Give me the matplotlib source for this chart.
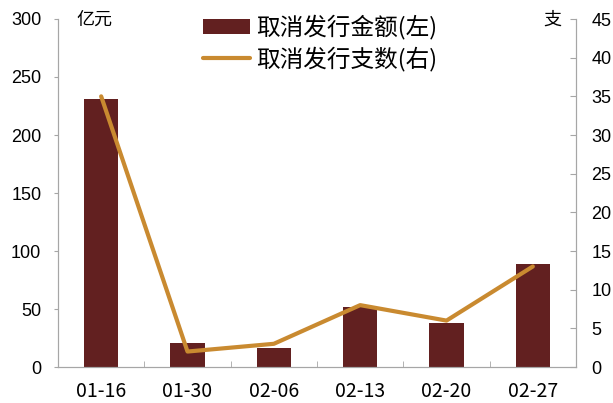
import numpy as np
import matplotlib.pyplot as plt

plt.rcParams['font.family'] = ['Liberation Sans', 'Noto Sans CJK SC', 'DejaVu Sans']

# 数据
dates = ['01-16', '01-30', '02-06', '02-13', '02-20', '02-27']
amount = [231, 21, 16, 51.5, 38, 89]    # 取消发行金额(亿元)
count = [35, 2, 3, 8, 6, 13]            # 取消发行支数

bar_color = '#622020'
line_color = '#C98A30'
axis_color = '#A6A6A6'
cjk = ['Noto Sans CJK SC', 'DejaVu Sans']

W, H = 613, 403
fig = plt.figure(figsize=(W / 100, H / 100), dpi=100)
ax = fig.add_axes([58 / W, 1 - 367 / H, (576 - 58) / W, (367 - 19) / H])
ax2 = ax.twinx()

x = np.arange(len(dates))
b = ax.bar(x, amount, width=0.4, color=bar_color)
l, = ax2.plot(x, count, color=line_color, linewidth=3, solid_capstyle='round')

ax.set_xlim(-0.5, len(dates) - 0.5)
ax.set_ylim(0, 300)
ax.set_yticks(range(0, 301, 50))
ax2.set_ylim(0, 45)
ax2.set_yticks(range(0, 46, 5))

ax.set_xticks(x)
ax.set_xticklabels(dates, family=cjk, fontsize=14)
ax.set_xticks(np.arange(-0.5, len(dates), 1), minor=True)
ax.tick_params(axis='x', which='major', length=0, pad=10)
ax.tick_params(axis='x', which='minor', direction='in', length=4, color=axis_color)

ax.tick_params(axis='y', direction='out', length=3, color=axis_color, labelsize=13, pad=9)
ax2.tick_params(axis='y', direction='in', length=4, color=axis_color, labelsize=13, pad=11)

for a in (ax, ax2):
    a.spines['top'].set_visible(False)
    for s in ('left', 'right', 'bottom'):
        a.spines[s].set_color(axis_color)

fig.text(76 / W, 1 - 19.5 / H, '亿元', fontsize=13, family=cjk, va='center', ha='left')
fig.text(561 / W, 1 - 19.5 / H, '支', fontsize=13, family=cjk, va='center', ha='right')

fig.legend([b, l], ['取消发行金额(左)', '取消发行支数(右)'], loc='upper left',
           bbox_to_anchor=(203 / W, 1 - 15 / H), frameon=False,
           prop={'family': cjk, 'size': 17},
           handlelength=2.0, handleheight=0.6, handletextpad=0.25,
           labelspacing=0.27, borderpad=0, borderaxespad=0)

fig.savefig('out.png', dpi=100)
